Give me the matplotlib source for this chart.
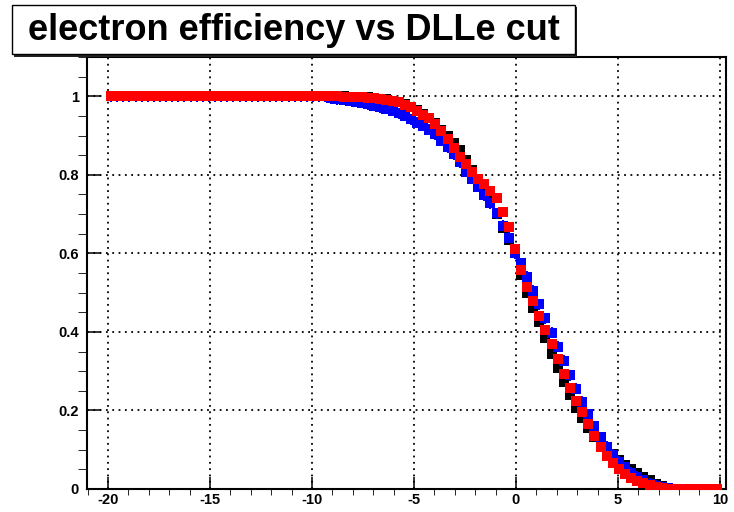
import numpy as np
import matplotlib
matplotlib.use("Agg")
import matplotlib.pyplot as plt
from matplotlib.patches import Rectangle
from matplotlib.ticker import MultipleLocator, FuncFormatter

W, H = 734, 512

# DLLe cut binning: 100 bins between -20 and 10
bin_edges = np.linspace(-20, 10, 101)
bin_centres = 0.5 * (bin_edges[:-1] + bin_edges[1:])
half_width = 0.5 * (bin_edges[1] - bin_edges[0])

# efficiency in the bins from -9.05 to 7.75 (everything below is 1, above is 0)
red_mid = [1.000, 1.000, 0.999, 0.999, 0.998, 0.997, 0.996, 0.995, 0.993, 0.991,
           0.989, 0.985, 0.979, 0.972, 0.962, 0.953, 0.944, 0.930, 0.912, 0.892,
           0.868, 0.845, 0.828, 0.808, 0.790, 0.776, 0.760, 0.740, 0.705, 0.668,
           0.610, 0.558, 0.515, 0.478, 0.440, 0.405, 0.368, 0.330, 0.292, 0.258,
           0.225, 0.195, 0.165, 0.135, 0.108, 0.085, 0.065, 0.050, 0.038, 0.028,
           0.021, 0.015, 0.010, 0.006, 0.003, 0.001, 0.000]
blue_mid = [0.995, 0.993, 0.991, 0.989, 0.986, 0.983, 0.980, 0.976, 0.972, 0.968,
            0.963, 0.957, 0.950, 0.942, 0.933, 0.925, 0.915, 0.903, 0.887, 0.870,
            0.852, 0.832, 0.808, 0.790, 0.770, 0.748, 0.728, 0.702, 0.670, 0.640,
            0.600, 0.575, 0.540, 0.505, 0.470, 0.435, 0.398, 0.362, 0.326, 0.290,
            0.255, 0.222, 0.190, 0.160, 0.132, 0.107, 0.087, 0.070, 0.055, 0.042,
            0.031, 0.022, 0.014, 0.008, 0.004, 0.002, 0.000]
black_mid = [1.000, 1.000, 1.000, 0.999, 0.999, 0.998, 0.997, 0.996, 0.994, 0.992,
             0.989, 0.985, 0.980, 0.973, 0.964, 0.955, 0.945, 0.932, 0.915, 0.898,
             0.880, 0.862, 0.838, 0.812, 0.790, 0.765, 0.740, 0.700, 0.665, 0.635,
             0.600, 0.545, 0.500, 0.462, 0.425, 0.385, 0.345, 0.308, 0.272, 0.240,
             0.205, 0.180, 0.155, 0.132, 0.115, 0.100, 0.088, 0.075, 0.062, 0.050,
             0.040, 0.030, 0.022, 0.014, 0.008, 0.003, 0.000]

red_eff = [1.0] * 36 + red_mid + [0.0] * 7
blue_eff = [1.0] * 36 + blue_mid + [0.0] * 7
black_eff = [1.0] * 36 + black_mid + [0.0] * 7

red_err = 0.010
blue_err = 0.014
black_err = 0.012

fig = plt.figure(figsize=(W / 100, H / 100), dpi=100)
ax = fig.add_axes([87 / W, 1 - 489 / H, (726 - 87) / W, (489 - 57) / H])

series = [(black_eff, black_err, "black", 2),
          (blue_eff, blue_err, "#0000ff", 3),
          (red_eff, red_err, "#ff0000", 4)]
for eff, err, col, z in series:
    ax.errorbar(bin_centres, eff, xerr=half_width, yerr=err, fmt="s",
                color=col, ms=6.5, mew=0, elinewidth=1.5, capsize=0, zorder=z)

ax.set_xlim(-21.03, 10.3)
ax.set_ylim(0, 1.1)

ax.xaxis.set_major_locator(MultipleLocator(5))
ax.xaxis.set_minor_locator(MultipleLocator(1))
ax.yaxis.set_major_locator(MultipleLocator(0.2))
ax.yaxis.set_minor_locator(MultipleLocator(0.05))
ax.yaxis.set_major_formatter(FuncFormatter(lambda v, p: "%g" % round(v, 2)))
ax.xaxis.set_major_formatter(FuncFormatter(lambda v, p: "%g" % v))

ax.grid(True, which="major", color="black", linestyle=(0, (1, 2.5)), linewidth=1.3)
ax.set_axisbelow(True)

ax.tick_params(direction="in", top=False, right=False, width=1.1, colors="black")
ax.tick_params(axis="x", which="major", length=9, pad=3)
ax.tick_params(axis="x", which="minor", length=4.3)
ax.tick_params(axis="y", which="major", length=10, pad=6)
ax.tick_params(axis="y", which="minor", length=6.5)
for lab in ax.get_xticklabels() + ax.get_yticklabels():
    lab.set_fontfamily("Liberation Sans")
    lab.set_fontweight("bold")
    lab.set_fontsize(10.5)
for s in ax.spines.values():
    s.set_linewidth(1.5)
    s.set_color("black")

# title box with shadow, ROOT style
shadow = Rectangle((14 / W, 1 - 57 / H), (577 - 14) / W, (57 - 7) / H,
                   transform=fig.transFigure, facecolor="#222222",
                   edgecolor="none", zorder=5)
box = Rectangle((12 / W, 1 - 54 / H), (575 - 12) / W, (54 - 5) / H,
                transform=fig.transFigure, facecolor="white",
                edgecolor="black", linewidth=1, zorder=6)
fig.patches.extend([shadow, box])
fig.text(293.5 / W, 1 - 30 / H, "electron efficiency vs DLLe cut",
         ha="center", va="center", fontsize=26, fontweight="bold",
         family="Liberation Sans", zorder=7)

fig.savefig("out.png", dpi=100)
